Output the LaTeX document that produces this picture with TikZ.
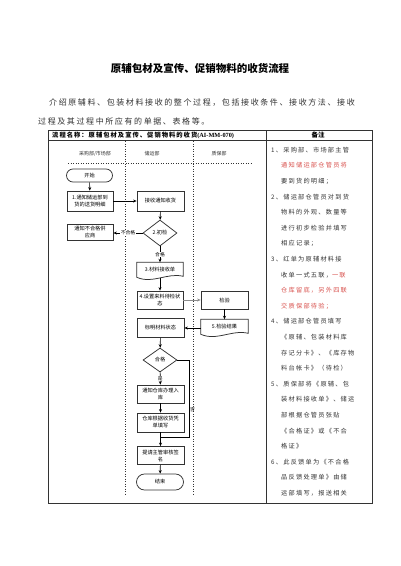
\documentclass[tikz,border=0pt]{standalone}
\usepackage{fontspec}
\setmainfont{Noto Sans CJK SC}
\newfontfamily\cjkls[LetterSpace=20]{Noto Sans CJK SC}
\newfontfamily\cjkhd[LetterSpace=16]{Noto Sans CJK SC}
\newfontfamily\latinserif{Liberation Serif}
\usetikzlibrary{shapes.geometric,shapes.misc,arrows.meta,calc,shadows}
\definecolor{ink}{HTML}{333333}
\definecolor{redink}{HTML}{D9534F}
\begin{document}
\begin{tikzpicture}[x=1pt,y=-1pt,
  box/.style={draw=ink, line width=0.75pt, minimum width=46pt, minimum height=18pt, inner sep=0.5pt, align=center, font=\fontsize{5.2}{7}\selectfont, fill=white, drop shadow={shadow xshift=0.7pt, shadow yshift=-0.7pt, fill=black!55, opacity=1}},
  term/.style={rounded rectangle, draw=ink, line width=0.75pt, minimum width=47pt, minimum height=13pt, inner sep=0.5pt, font=\fontsize{5.2}{7}\selectfont},
  dia/.style={diamond, draw=ink, line width=0.75pt, minimum width=34pt, minimum height=26pt, inner sep=0pt, font=\fontsize{5.2}{7}\selectfont},
  docn/.style={minimum width=46pt, minimum height=17pt, inner sep=0.5pt, align=center, font=\fontsize{5.2}{7}\selectfont},
  docline/.style={draw=ink, line width=0.75pt, fill=white},
  arr/.style={draw=black, line width=0.6pt, -{Stealth[length=3.5pt,width=3pt]}},
  plain/.style={draw=black, line width=0.6pt},
  lbl/.style={fill=white, inner sep=0.5pt, font=\fontsize{4.8}{6}\selectfont},
  lane/.style={font=\fontsize{5}{6}\selectfont, text=ink},
  note/.style={anchor=west, inner sep=0pt, font=\cjkls\fontsize{6.2}{7}\selectfont, text=ink},
  rnote/.style={note, text=redink},
  frame/.style={draw=ink, line width=0.7pt},
  sep/.style={draw=ink, line width=0.5pt, dotted}
]
\useasboundingbox (0,0) rectangle (400,566);
\fill[white] (0,0) rectangle (400,566);

% title and intro
\node[font=\bfseries\fontsize{10.5}{12}\selectfont] (title) at (200,68) {原辅包材及宣传、促销物料的收货流程};
\node[anchor=west, inner sep=0pt, font=\cjkls\fontsize{8}{10}\selectfont, text=ink] (p1) at (49,103) {介绍原辅料、包装材料接收的整个过程，包括接收条件、接收方法、接收};
\node[anchor=west, inner sep=0pt, font=\cjkls\fontsize{8}{10}\selectfont, text=ink] (p2) at (38,121) {过程及其过程中所应有的单据、表格等。};

% table frame
\coordinate (tl) at (48,130);
\coordinate (br) at (372,503);
\draw[frame] (tl) rectangle (br);
\coordinate (h1) at (48,140);
\coordinate (h2) at (372,140);
\draw[frame] (h1) -- (h2);
\coordinate (n1) at (266,130);
\coordinate (n2) at (266,503);
\draw[frame] (n1) -- (n2);
\node[anchor=west, inner sep=0pt, font=\cjkhd\bfseries\fontsize{6.3}{7}\selectfont] (hdr) at (52,135) {流程名称：原辅包材及宣传、促销物料的收货{\latinserif\bfseries(AI-MM-070)}};
\node[font=\bfseries\fontsize{6.5}{7}\selectfont] (rem) at (318,135) {备注};

% lanes
\node[lane] (l1) at (95,154) {采购部/市场部};
\node[lane] (l2) at (152,154) {储运部};
\node[lane] (l3) at (219,154) {质保部};
\coordinate (s1) at (68,163);
\coordinate (s2) at (252,163);
\draw[sep] (s1) -- (s2);
\coordinate (v1a) at (125,141);
\coordinate (v1b) at (125,494);
\coordinate (v2a) at (193,141);
\coordinate (v2b) at (193,494);
\draw[sep] (v1a) -- (v1b);
\draw[sep] (v2a) -- (v2b);

% flow nodes
\node[term] (start) at (89.5,175.5) {开始};
\node[box, minimum height=20pt] (b1) at (90,201) {1.通知储运部到\\货的送货明细};
\node[box, minimum height=20pt, minimum width=47pt] (b2) at (160.5,201) {接收通知收货};
\node[dia] (d1) at (160,233) {2.初检};
\node[box, minimum height=16pt] (bad) at (90,232) {通知不合格供\\应商};
\node[docn] (d3) at (160,271) {};
\draw[docline] (d3.north west) -- (d3.north east) -- ($(d3.north east)+(0,14)$) .. controls ($(d3.north east)+(-16,10)$) and ($(d3.north west)+(16,22)$) .. ($(d3.north west)+(0,15)$) -- cycle;
\node[docn] (d3t) at (160,269.5) {3.材料接收单};
\node[box] (b4) at (160,300) {4.设置来料待检状\\态};
\node[box, minimum width=47pt] (chk) at (224.5,300) {检验};
\node[docn, minimum width=47pt] (d5) at (224.5,328) {};
\draw[docline] (d5.north west) -- (d5.north east) -- ($(d5.north east)+(0,14)$) .. controls ($(d5.north east)+(-16,10)$) and ($(d5.north west)+(16,22)$) .. ($(d5.north west)+(0,15)$) -- cycle;
\node[docn] (d5t) at (224.5,326.5) {5.检验结果};
\node[box, minimum width=47pt, minimum height=19pt] (mark) at (160.5,328) {标明材料状态};
\node[dia, minimum height=24pt] (d2) at (160,360) {合格};
\node[box, minimum width=47pt] (b6) at (160.5,394) {通知仓库办理入\\库};
\node[box, minimum width=47pt, minimum height=19pt] (b7) at (160.5,422.5) {仓库根据收货凭\\单填写};
\node[box, minimum width=47pt] (b8) at (160.5,455.5) {提请主管审核签\\名};
\node[term, minimum width=48pt, minimum height=16pt] (end) at (160,482) {结束};

% connectors
\draw[arr] (start) -- (b1);
\draw[arr] (b1) -- (b2);
\draw[arr] (b2) -- (d1);
\draw[arr] (d1.west) -- node[lbl]{不合格} (bad.east |- d1.west);
\draw[arr] (d1) -- node[lbl]{合格} (d3.north);
\draw[arr] ($(d3.south)+(0,-2)$) -- (b4);
\draw[arr, draw=black!45] (b4) -- (chk);
\draw[arr] (chk) -- (d5.north);
\draw[arr] (d5.west) -- (mark.east);
\draw[arr] (mark) -- (d2);
\draw[arr] (d2) -- node[lbl]{是} (b6);
\draw[arr] (b6) -- (b7);
\draw[arr] (b7) -- (b8);
\coordinate (c1) at (189,360);
\coordinate (c2) at (189,437);
\coordinate (j) at (160.5,437);
\draw[plain] (d2.east) -- (c1) -- node[pos=0.65, anchor=west, inner sep=0.8pt, font=\fontsize{4.8}{6}\selectfont]{否} (c2) -- (j);
\draw[arr] (b8) -- (end);

% notes
\node[note] (m1) at (271,150) {1、采购部、市场部主管};
\node[rnote] (m2) at (281,165.6) {通知储运部仓管员将};
\node[note] (m3) at (281,181.2) {要到货的明细；};
\node[note] (m4) at (271,196.8) {2、储运部仓管员对到货};
\node[note] (m5) at (281,212.4) {物料的外观、数量等};
\node[note] (m6) at (281,228) {进行初步检验并填写};
\node[note] (m7) at (281,243.6) {相应记录；};
\node[note] (m8) at (271,259.2) {3、红单为原辅材料接};
\node[note] (m9) at (281,274.8) {收单一式五联，\textcolor{redink}{一联}};
\node[rnote] (m10) at (281,290.4) {仓库留底，另外四联};
\node[rnote] (m11) at (281,306) {交质保部待验；};
\node[note] (m12) at (271,321.6) {4、储运部仓管员填写};
\node[note] (m13) at (281,337.2) {《原辅、包装材料库};
\node[note] (m14) at (281,352.8) {存记分卡》、《库存物};
\node[note] (m15) at (281,368.4) {料台帐卡》（待检）};
\node[note] (m16) at (271,384) {5、质保部将《原辅、包};
\node[note] (m17) at (281,399.6) {装材料接收单》、储运};
\node[note] (m18) at (281,415.2) {部根据仓管员张贴};
\node[note] (m19) at (281,430.8) {《合格证》或《不合};
\node[note] (m20) at (281,446.4) {格证》};
\node[note] (m21) at (271,462) {6、此反馈单为《不合格};
\node[note] (m22) at (281,477.6) {品反馈处理单》由储};
\node[note] (m23) at (281,493.2) {运部填写，报送相关};
\end{tikzpicture}
\end{document}
